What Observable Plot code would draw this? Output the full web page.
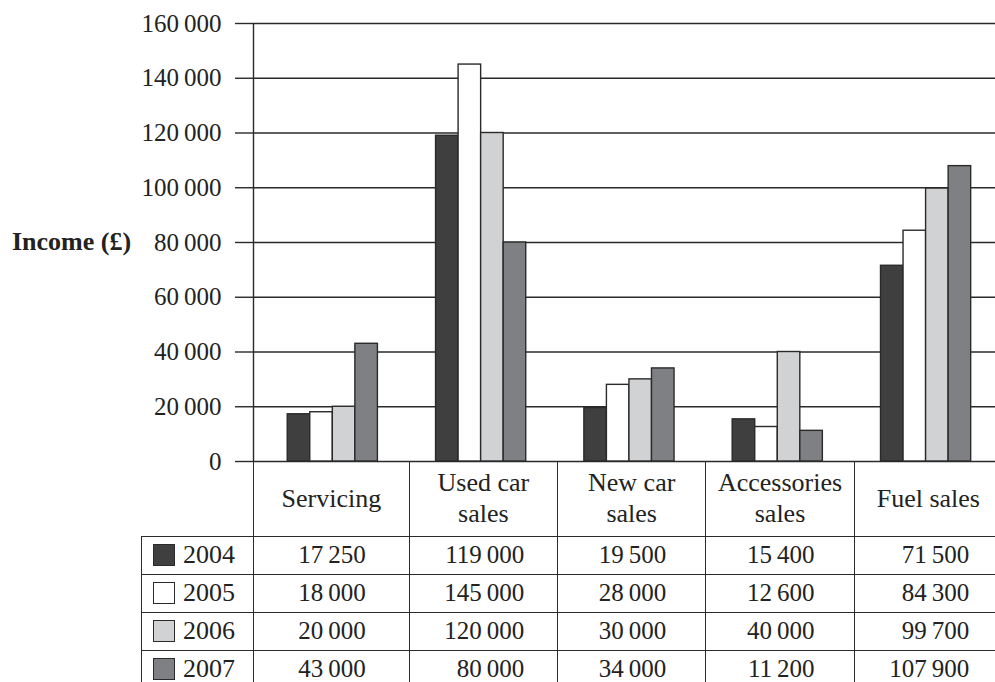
<!DOCTYPE html>
<html><head><meta charset="utf-8">
<script src="https://cdn.jsdelivr.net/npm/d3@7"></script>
<script src="https://cdn.jsdelivr.net/npm/@observablehq/plot@0.6"></script>
<style>
html,body{margin:0;padding:0;background:#fff;overflow:hidden;width:995px;height:682px}
#wrap{position:relative;width:1002px;height:682px;font-family:"Liberation Serif","Times New Roman",serif;color:#222}
#ylabel{position:absolute;left:12px;top:227px;line-height:30px;font-weight:bold;font-size:26px;white-space:nowrap}
#tbl{position:absolute;top:461px;border-collapse:collapse;table-layout:fixed;font-size:25px;color:#222}
#tbl td{padding:0;text-align:center;vertical-align:middle;border:1.5px solid #2a2a2a}
#tbl tr.head td{border-top:none;line-height:31px;white-space:pre-line;font-size:26px}
#tbl tr.head td.blank{border:none}
#tbl td.leg{text-align:left;padding-left:11px;white-space:nowrap;font-size:26px}
.sw{display:inline-block;width:20px;height:20px;border:1.5px solid #2a2a2a;vertical-align:-3px;margin-right:8px}
.num{display:inline-block;text-align:right;white-space:nowrap}
</style></head><body><div id="wrap"></div>
<script>
const categories = ["Servicing", "Used car\nsales", "New car\nsales", "Accessories\nsales", "Fuel sales"];
const years = ["2004", "2005", "2006", "2007"];
const income2004 = [17250, 119000, 19500, 15400, 71500];
const income2005 = [18000, 145000, 28000, 12600, 84300];
const income2006 = [20000, 120000, 30000, 40000, 99700];
const income2007 = [43000, 80000, 34000, 11200, 107900];
const yTicks = [0, 20000, 40000, 60000, 80000, 100000, 120000, 140000, 160000];
const yearColors = ["#3f3f3f", "#ffffff", "#d1d2d4", "#7f8084"];
const yLabel = "Income (£)";

const series = [income2004, income2005, income2006, income2007];
const fmt = d => d3.format(",")(d).replace(/,/g, "\u2009");
const rows = [];
series.forEach((vals, j) => vals.forEach((v, i) => rows.push({cat: i, j, year: years[j], value: v})));

const xDomain = [-0.05, categories.length];
const bw = 0.152; // width of one bar, in category units
const ink = "#2a2a2a";

const plot = Plot.plot({
  width: 1002, height: 462,
  marginLeft: 253, marginRight: 0, marginTop: 23, marginBottom: 1,
  style: {fontFamily: "'Liberation Serif', 'Times New Roman', serif", fontSize: "25px", color: "#222", background: "#fff", overflow: "visible"},
  x: {domain: xDomain, axis: null},
  y: {domain: [yTicks[0], yTicks[yTicks.length - 1]], axis: null},
  color: {domain: years, range: yearColors},
  marks: [
    Plot.ruleY(yTicks, {stroke: ink, strokeWidth: 1.4}),
    Plot.axisY(yTicks, {tickSize: 18, tickPadding: 14, tickFormat: fmt, stroke: ink, strokeWidth: 1.4, label: null}),
    Plot.rect(rows, {
      x1: d => d.cat + 0.5 + (d.j - 2.1) * bw,
      x2: d => d.cat + 0.5 + (d.j - 1.1) * bw,
      y1: 0, y2: "value", fill: "year", stroke: ink, strokeWidth: 1.4
    }),
    Plot.ruleX([xDomain[0]], {stroke: ink, strokeWidth: 1.4})
  ]
});

const wrap = document.getElementById("wrap");
wrap.appendChild(plot);

const lab = document.createElement("div");
lab.id = "ylabel";
lab.textContent = yLabel;
wrap.appendChild(lab);

// table below, aligned with the x scale
const sx = plot.scale("x");
const edges = [141, sx.apply(xDomain[0])];
for (let i = 1; i <= categories.length; i++) edges.push(sx.apply(i));
const widths = edges.slice(1).map((e, i) => e - edges[i]);

// measure widest number of each column
const ctx = document.createElement("canvas").getContext("2d");
ctx.font = "25px 'Liberation Serif'";
const colW = categories.map((c, i) => Math.ceil(d3.max(series, s => ctx.measureText(fmt(s[i])).width)) + 1);

const tbl = document.createElement("table");
tbl.id = "tbl";
tbl.style.left = edges[0] + "px";
tbl.style.width = (edges[edges.length - 1] - edges[0]) + "px";
let html = "<colgroup>" + widths.map(w => `<col style="width:${w}px">`).join("") + "</colgroup>";
html += `<tr class="head" style="height:75px"><td class="blank"></td>` + categories.map(c => `<td>${c}</td>`).join("") + "</tr>";
years.forEach((y, j) => {
  html += `<tr style="height:38px"><td class="leg"><span class="sw" style="background:${yearColors[j]}"></span>${y}</td>` +
    series[j].map((v, i) => `<td><span class="num" style="width:${colW[i]}px">${fmt(v)}</span></td>`).join("") + "</tr>";
});
tbl.innerHTML = html;
wrap.appendChild(tbl);
</script>
</body></html>
